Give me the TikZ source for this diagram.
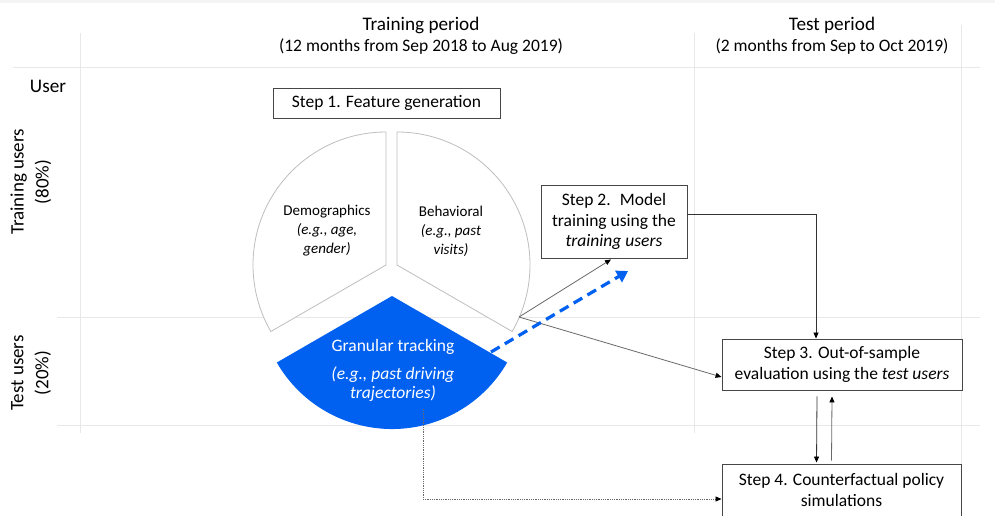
\documentclass[tikz,border=0pt]{standalone}
\usepackage{fontspec}
\setmainfont{Carlito}
\usetikzlibrary{arrows.meta}

\definecolor{gridgray}{RGB}{232,232,232}
\definecolor{bandgray}{RGB}{244,244,244}
\definecolor{piegray}{RGB}{190,190,190}
\definecolor{trackblue}{RGB}{0,96,240}
\definecolor{flowgray}{RGB}{105,105,105}
\definecolor{boxgray}{RGB}{70,70,70}

\tikzset{
  gridline/.style={draw=gridgray, line width=0.8pt},
  sector/.style={draw=piegray, line width=0.8pt, fill=white},
  stepbox/.style={draw=boxgray, line width=0.9pt, fill=white, inner sep=0pt,
    align=center, font=\fontsize{17.5}{20.5}\selectfont},
  header/.style={align=center, font=\fontsize{19.2}{22}\selectfont},
  subheader/.style={font=\fontsize{17.5}{20}\selectfont},
  rowlabel/.style={rotate=90, align=center, font=\fontsize{19}{25}\selectfont},
  pietext/.style={align=center, font=\fontsize{15}{19}\selectfont},
  flow/.style={draw=flowgray, line width=0.8pt,
    -{Triangle[length=6pt,width=5pt,color=black]}},
  flowdark/.style={draw=black!80, line width=0.8pt,
    -{Triangle[length=6pt,width=5pt,color=black]}},
}

\begin{document}
\begin{tikzpicture}[x=1pt,y=-1pt]
\useasboundingbox (0,0) rectangle (995,515);
\fill[white] (0,0) rectangle (995,515);
\fill[bandgray] (0,0) rectangle (995,3);

% table grid
\draw[gridline] (13,67) -- (980,67);
\draw[gridline] (57,317) -- (980,317);
\draw[gridline] (57,425) -- (980,425);
\draw[gridline] (80,33) -- (80,433);
\draw[gridline] (694,33) -- (694,433);
\draw[gridline] (961,25) -- (961,515);

% column and row headings
\node[header] (trainhead) at (421,25) {Training period};
\node[subheader] (trainsub) at (421,47) {(12 months from Sep 2018 to Aug 2019)};
\node[header] (testhead) at (832,25) {Test period};
\node[subheader] (testsub) at (832,47) {(2 months from Sep to Oct 2019)};
\node[header] (userhead) at (48,86) {User};
\node[rowlabel] (trainusers) at (31,182) {Training users\\(80\%)};
\node[rowlabel] (testusers) at (31,373) {Test users\\(20\%)};

% feature pie (exploded sectors)
\draw[sector] (386,265) -- +(270:133) arc[start angle=270, end angle=150, radius=133] -- cycle;
\draw[sector] (397,265) -- +(270:133) arc[start angle=270, end angle=390, radius=133] -- cycle;
\fill[trackblue] (392,296) -- +(150:133) arc[start angle=150, end angle=30, radius=133] -- cycle;

\node[pietext] (demo) at (327,231) {Demographics\\\textit{(e.g., age,}\\\textit{gender)}};
\node[pietext] (behav) at (451,231) {Behavioral\\\textit{(e.g., past}\\\textit{visits)}};
\node[align=center, text=white, font=\fontsize{17.5}{19}\selectfont] (track) at (393,347) {Granular tracking};
\node[align=center, text=white, font=\fontsize{17.5}{19}\selectfont] (tracknote) at (393,384.5) {\textit{(e.g., past driving}\\\textit{trajectories)}};

% steps
\node[stepbox, minimum width=227pt, minimum height=30pt] (s1) at (386.5,103) {Step 1. Feature generation};
\node[stepbox, minimum width=146pt, minimum height=73pt] (s2) at (614,221.5) {Step 2.~ Model\\training using the\\\textit{training users}};
\node[stepbox, minimum width=240pt, minimum height=51pt] (s3) at (842,364.5) {Step 3. Out-of-sample\\evaluation using the \textit{test users}};
\node[stepbox, minimum width=239pt, minimum height=52pt] (s4) at (841.5,490) {Step 4. Counterfactual policy\\simulations};

% connectors
\coordinate (fork) at (519,317);
\coordinate (trackout) at (423,409);
\coordinate (blueA) at (491,352);
\coordinate (blueB) at (628,271);

\draw[flow] (fork) -- ([xshift=-3pt,yshift=-1pt]s2.south);
\draw[flow] (fork) -- ([yshift=-12.5pt]s3.west);
\draw[flowdark] ([yshift=7.5pt]s2.east) -| ([xshift=-26pt]s3.north);
\draw[flowdark] ([xshift=-25pt,yshift=-6pt]s3.south) -- ([xshift=-25pt,yshift=1pt]s4.north);
\draw[flow] ([xshift=-10pt,yshift=3pt]s4.north) -- ([xshift=-10pt,yshift=-6pt]s3.south);
\draw[flow, densely dotted] (trackout) |- ([yshift=-9pt]s4.west);
\draw[draw=trackblue, line width=3.2pt, dash pattern=on 10pt off 6pt,
  -{Triangle[length=11pt,width=13pt]}] (blueA) -- (blueB);
\end{tikzpicture}
\end{document}
